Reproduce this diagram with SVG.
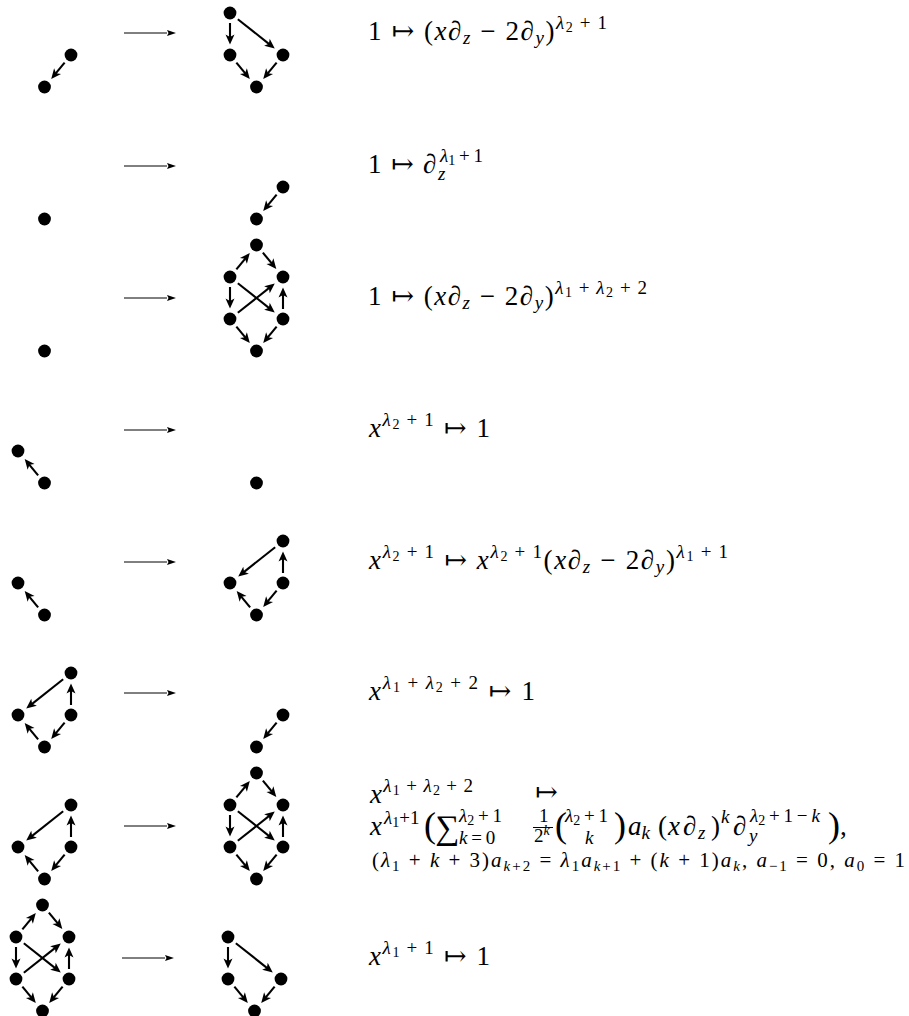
<svg xmlns="http://www.w3.org/2000/svg" width="909" height="1016" viewBox="0 0 909 1016">
<style>
.n{fill:#000}
.e{stroke:#000;stroke-width:2.1;fill:none;marker-end:url(#ah)}
.h{stroke:#000;stroke-width:1;fill:none;marker-end:url(#hh)}
.t{font-size:27px;fill:#000}
.i{font-style:italic}
.s{font-size:19px}
.ss{font-size:14px}
.big{font-size:36px}
.sum{font-size:34px}
.t3{font-size:21px;fill:#000}
.s3{font-size:15px}
</style>
<defs>
<marker id="ah" markerUnits="userSpaceOnUse" markerWidth="14" markerHeight="14" viewBox="-6 -7 14 14" refX="0" refY="0" orient="auto"><path d="M5.5,0 L-4.5,-4.5 L-2,0 L-4.5,4.5 Z" fill="#000"/></marker>
<marker id="hh" markerUnits="userSpaceOnUse" markerWidth="12" markerHeight="8" viewBox="-2 -4 12 8" refX="0" refY="0" orient="auto"><path d="M9,0 L0,-3 L1.5,0 L0,3 Z" fill="#000"/></marker>
</defs>

<g id="connectors">
<line class="h" x1="124" y1="33" x2="167" y2="33"/>
<line class="h" x1="124" y1="166" x2="167" y2="166"/>
<line class="h" x1="124" y1="298" x2="167" y2="298"/>
<line class="h" x1="124" y1="430" x2="167" y2="430"/>
<line class="h" x1="124" y1="562" x2="167" y2="562"/>
<line class="h" x1="124" y1="693" x2="167" y2="693"/>
<line class="h" x1="124" y1="826" x2="167" y2="826"/>
<line class="h" x1="122" y1="958" x2="165" y2="958"/>
<g transform="translate(44.5,55)"><line class="e" x1="20.12" y1="7.70" x2="10.21" y2="19.68"/></g>
<g transform="translate(230,13)">
<line class="e" x1="0" y1="10" x2="0" y2="26"/>
<line class="e" x1="7.84" y1="6.21" x2="40.46" y2="32.06"/>
<line class="e" x1="6.38" y1="49.70" x2="16.29" y2="61.68"/>
<line class="e" x1="46.62" y1="49.70" x2="36.71" y2="61.68"/>
</g>
<g transform="translate(256.5,187)"><line class="e" x1="20.12" y1="7.70" x2="10.21" y2="19.68"/></g>
<g transform="translate(230,277)">
<line class="e" x1="6.38" y1="-7.70" x2="16.29" y2="-19.68"/>
<line class="e" x1="32.88" y1="-24.30" x2="42.79" y2="-12.32"/>
<line class="e" x1="0" y1="10" x2="0" y2="26"/>
<line class="e" x1="53" y1="32" x2="53" y2="16"/>
<line class="e" x1="7.84" y1="6.21" x2="40.46" y2="32.06"/>
<line class="e" x1="7.84" y1="35.79" x2="40.46" y2="9.94"/>
<line class="e" x1="6.38" y1="49.70" x2="16.29" y2="61.68"/>
<line class="e" x1="46.62" y1="49.70" x2="36.71" y2="61.68"/>
</g>
<g transform="translate(18,451)"><line class="e" x1="20.12" y1="24.30" x2="10.21" y2="12.32"/></g>
<g transform="translate(18,583)"><line class="e" x1="20.12" y1="24.30" x2="10.21" y2="12.32"/></g>
<g transform="translate(230,541)">
<line class="e" x1="45.16" y1="6.21" x2="12.54" y2="32.06"/>
<line class="e" x1="53" y1="32" x2="53" y2="16"/>
<line class="e" x1="46.62" y1="49.70" x2="36.71" y2="61.68"/>
<line class="e" x1="20.12" y1="66.30" x2="10.21" y2="54.32"/>
</g>
<g transform="translate(18,673)">
<line class="e" x1="45.16" y1="6.21" x2="12.54" y2="32.06"/>
<line class="e" x1="53" y1="32" x2="53" y2="16"/>
<line class="e" x1="46.62" y1="49.70" x2="36.71" y2="61.68"/>
<line class="e" x1="20.12" y1="66.30" x2="10.21" y2="54.32"/>
</g>
<g transform="translate(256.5,715)"><line class="e" x1="20.12" y1="7.70" x2="10.21" y2="19.68"/></g>
<g transform="translate(18,805)">
<line class="e" x1="45.16" y1="6.21" x2="12.54" y2="32.06"/>
<line class="e" x1="53" y1="32" x2="53" y2="16"/>
<line class="e" x1="46.62" y1="49.70" x2="36.71" y2="61.68"/>
<line class="e" x1="20.12" y1="66.30" x2="10.21" y2="54.32"/>
</g>
<g transform="translate(230,805)">
<line class="e" x1="6.38" y1="-7.70" x2="16.29" y2="-19.68"/>
<line class="e" x1="32.88" y1="-24.30" x2="42.79" y2="-12.32"/>
<line class="e" x1="0" y1="10" x2="0" y2="26"/>
<line class="e" x1="53" y1="32" x2="53" y2="16"/>
<line class="e" x1="7.84" y1="6.21" x2="40.46" y2="32.06"/>
<line class="e" x1="7.84" y1="35.79" x2="40.46" y2="9.94"/>
<line class="e" x1="6.38" y1="49.70" x2="16.29" y2="61.68"/>
<line class="e" x1="46.62" y1="49.70" x2="36.71" y2="61.68"/>
</g>
<g transform="translate(16,937)">
<line class="e" x1="6.38" y1="-7.70" x2="16.29" y2="-19.68"/>
<line class="e" x1="32.88" y1="-24.30" x2="42.79" y2="-12.32"/>
<line class="e" x1="0" y1="10" x2="0" y2="26"/>
<line class="e" x1="53" y1="32" x2="53" y2="16"/>
<line class="e" x1="7.84" y1="6.21" x2="40.46" y2="32.06"/>
<line class="e" x1="7.84" y1="35.79" x2="40.46" y2="9.94"/>
<line class="e" x1="6.38" y1="49.70" x2="16.29" y2="61.68"/>
<line class="e" x1="46.62" y1="49.70" x2="36.71" y2="61.68"/>
</g>
<g transform="translate(228,937)">
<line class="e" x1="0" y1="10" x2="0" y2="26"/>
<line class="e" x1="7.84" y1="6.21" x2="40.46" y2="32.06"/>
<line class="e" x1="6.38" y1="49.70" x2="16.29" y2="61.68"/>
<line class="e" x1="46.62" y1="49.70" x2="36.71" y2="61.68"/>
</g>
</g>

<g id="r1L-a"><circle class="n" cx="71" cy="55" r="6.4"/></g>
<g id="r1L-b"><circle class="n" cx="44.5" cy="87" r="6.4"/></g>
<g id="r1R-a"><circle class="n" cx="230" cy="13" r="6.4"/></g>
<g id="r1R-b"><circle class="n" cx="230" cy="55" r="6.4"/></g>
<g id="r1R-c"><circle class="n" cx="283" cy="55" r="6.4"/></g>
<g id="r1R-d"><circle class="n" cx="256.5" cy="87" r="6.4"/></g>
<g id="r2L-a"><circle class="n" cx="44.5" cy="219" r="6.4"/></g>
<g id="r2R-a"><circle class="n" cx="283" cy="187" r="6.4"/></g>
<g id="r2R-b"><circle class="n" cx="256.5" cy="219" r="6.4"/></g>
<g id="r3L-a"><circle class="n" cx="44.5" cy="351" r="6.4"/></g>
<g id="r3R-t"><circle class="n" cx="256.5" cy="245" r="6.4"/></g>
<g id="r3R-ml"><circle class="n" cx="230" cy="277" r="6.4"/></g>
<g id="r3R-mr"><circle class="n" cx="283" cy="277" r="6.4"/></g>
<g id="r3R-bl"><circle class="n" cx="230" cy="319" r="6.4"/></g>
<g id="r3R-br"><circle class="n" cx="283" cy="319" r="6.4"/></g>
<g id="r3R-b"><circle class="n" cx="256.5" cy="351" r="6.4"/></g>
<g id="r4L-a"><circle class="n" cx="18" cy="451" r="6.4"/></g>
<g id="r4L-b"><circle class="n" cx="44.5" cy="483" r="6.4"/></g>
<g id="r4R-a"><circle class="n" cx="256.5" cy="483" r="6.4"/></g>
<g id="r5L-a"><circle class="n" cx="18" cy="583" r="6.4"/></g>
<g id="r5L-b"><circle class="n" cx="44.5" cy="615" r="6.4"/></g>
<g id="r5R-tr"><circle class="n" cx="283" cy="541" r="6.4"/></g>
<g id="r5R-ml"><circle class="n" cx="230" cy="583" r="6.4"/></g>
<g id="r5R-mr"><circle class="n" cx="283" cy="583" r="6.4"/></g>
<g id="r5R-b"><circle class="n" cx="256.5" cy="615" r="6.4"/></g>
<g id="r6L-tr"><circle class="n" cx="71" cy="673" r="6.4"/></g>
<g id="r6L-ml"><circle class="n" cx="18" cy="715" r="6.4"/></g>
<g id="r6L-mr"><circle class="n" cx="71" cy="715" r="6.4"/></g>
<g id="r6L-b"><circle class="n" cx="44.5" cy="747" r="6.4"/></g>
<g id="r6R-a"><circle class="n" cx="283" cy="715" r="6.4"/></g>
<g id="r6R-b"><circle class="n" cx="256.5" cy="747" r="6.4"/></g>
<g id="r7L-tr"><circle class="n" cx="71" cy="805" r="6.4"/></g>
<g id="r7L-ml"><circle class="n" cx="18" cy="847" r="6.4"/></g>
<g id="r7L-mr"><circle class="n" cx="71" cy="847" r="6.4"/></g>
<g id="r7L-b"><circle class="n" cx="44.5" cy="879" r="6.4"/></g>
<g id="r7R-t"><circle class="n" cx="256.5" cy="773" r="6.4"/></g>
<g id="r7R-ml"><circle class="n" cx="230" cy="805" r="6.4"/></g>
<g id="r7R-mr"><circle class="n" cx="283" cy="805" r="6.4"/></g>
<g id="r7R-bl"><circle class="n" cx="230" cy="847" r="6.4"/></g>
<g id="r7R-br"><circle class="n" cx="283" cy="847" r="6.4"/></g>
<g id="r7R-b"><circle class="n" cx="256.5" cy="879" r="6.4"/></g>
<g id="r8L-t"><circle class="n" cx="42.5" cy="905" r="6.4"/></g>
<g id="r8L-ml"><circle class="n" cx="16" cy="937" r="6.4"/></g>
<g id="r8L-mr"><circle class="n" cx="69" cy="937" r="6.4"/></g>
<g id="r8L-bl"><circle class="n" cx="16" cy="979" r="6.4"/></g>
<g id="r8L-br"><circle class="n" cx="69" cy="979" r="6.4"/></g>
<g id="r8L-b"><circle class="n" cx="42.5" cy="1011" r="6.4"/></g>
<g id="r8R-a"><circle class="n" cx="228" cy="937" r="6.4"/></g>
<g id="r8R-b"><circle class="n" cx="228" cy="979" r="6.4"/></g>
<g id="r8R-c"><circle class="n" cx="281" cy="979" r="6.4"/></g>
<g id="r8R-d"><circle class="n" cx="254.5" cy="1011" r="6.4"/></g>

<g id="f1"><text class="t" font-family="Liberation Serif, Times New Roman, DejaVu Serif, serif" y="40" textLength="239" lengthAdjust="spacing"><tspan x="368">1 ↦ (</tspan><tspan class="i">x∂</tspan><tspan class="s i" y="44">z</tspan><tspan y="40"> − 2</tspan><tspan class="i">∂</tspan><tspan class="s i" y="44">y</tspan><tspan y="40">)</tspan><tspan class="s i" y="29">λ</tspan><tspan class="ss" y="32">2</tspan><tspan class="s" y="29">&#8201;+&#8201;1</tspan></text></g>

<g id="f2"><text class="t" font-family="Liberation Serif, Times New Roman, DejaVu Serif, serif" y="173"><tspan x="368">1</tspan><tspan x="391">↦</tspan><tspan class="i" x="423">∂</tspan><tspan class="s i" x="438" y="180">z</tspan><tspan class="s i" x="440" y="162">λ</tspan><tspan class="ss" y="165">1</tspan><tspan class="s" y="162">&#8201;+&#8201;1</tspan></text></g>

<g id="f3"><text class="t" font-family="Liberation Serif, Times New Roman, DejaVu Serif, serif" y="305" textLength="279" lengthAdjust="spacing"><tspan x="368">1 ↦ (</tspan><tspan class="i">x∂</tspan><tspan class="s i" y="309">z</tspan><tspan y="305"> − 2</tspan><tspan class="i">∂</tspan><tspan class="s i" y="309">y</tspan><tspan y="305">)</tspan><tspan class="s i" y="294">λ</tspan><tspan class="ss" y="297">1</tspan><tspan class="s" y="294">&#8201;+&#8201;</tspan><tspan class="s i">λ</tspan><tspan class="ss" y="297">2</tspan><tspan class="s" y="294">&#8201;+&#8201;2</tspan></text></g>

<g id="f4"><text class="t" font-family="Liberation Serif, Times New Roman, DejaVu Serif, serif" y="437" textLength="121" lengthAdjust="spacing"><tspan class="i" x="369">x</tspan><tspan class="s i" y="426">λ</tspan><tspan class="ss" y="429">2</tspan><tspan class="s" y="426">&#8201;+&#8201;1</tspan><tspan y="437"> ↦ 1</tspan></text></g>

<g id="f5"><text class="t" font-family="Liberation Serif, Times New Roman, DejaVu Serif, serif" y="569" textLength="359" lengthAdjust="spacing"><tspan class="i" x="369">x</tspan><tspan class="s i" y="558">λ</tspan><tspan class="ss" y="561">2</tspan><tspan class="s" y="558">&#8201;+&#8201;1</tspan><tspan y="569"> ↦ </tspan><tspan class="i">x</tspan><tspan class="s i" y="558">λ</tspan><tspan class="ss" y="561">2</tspan><tspan class="s" y="558">&#8201;+&#8201;1</tspan><tspan y="569">(</tspan><tspan class="i">x∂</tspan><tspan class="s i" y="573">z</tspan><tspan y="569"> − 2</tspan><tspan class="i">∂</tspan><tspan class="s i" y="573">y</tspan><tspan y="569">)</tspan><tspan class="s i" y="558">λ</tspan><tspan class="ss" y="561">1</tspan><tspan class="s" y="558">&#8201;+&#8201;1</tspan></text></g>

<g id="f6"><text class="t" font-family="Liberation Serif, Times New Roman, DejaVu Serif, serif" y="700" textLength="166" lengthAdjust="spacing"><tspan class="i" x="369">x</tspan><tspan class="s i" y="689">λ</tspan><tspan class="ss" y="692">1</tspan><tspan class="s" y="689">&#8201;+&#8201;</tspan><tspan class="s i">λ</tspan><tspan class="ss" y="692">2</tspan><tspan class="s" y="689">&#8201;+&#8201;2</tspan><tspan y="700"> ↦ 1</tspan></text></g>

<g id="f7">
<text class="t" font-family="Liberation Serif, Times New Roman, DejaVu Serif, serif" y="803" textLength="103" lengthAdjust="spacing"><tspan class="i" x="370">x</tspan><tspan class="s i" y="792">λ</tspan><tspan class="ss" y="795">1</tspan><tspan class="s" y="792">&#8201;+&#8201;</tspan><tspan class="s i">λ</tspan><tspan class="ss" y="795">2</tspan><tspan class="s" y="792">&#8201;+&#8201;2</tspan></text>
<text class="t" font-family="Liberation Serif, Times New Roman, DejaVu Serif, serif" x="535" y="801">↦</text>
<text class="t" font-family="Liberation Serif, Times New Roman, DejaVu Serif, serif" y="835"><tspan class="i" x="370">x</tspan><tspan class="s i" x="384" y="824">λ</tspan><tspan class="ss" y="827">1</tspan><tspan class="s" y="824">+1</tspan><tspan class="big" x="424" y="837">(</tspan><tspan class="sum" x="435" y="839">∑</tspan><tspan class="s i" x="459" y="822">λ</tspan><tspan class="ss" y="825">2</tspan><tspan class="s" y="822">&#8201;+&#8201;1</tspan><tspan class="s i" x="459" y="844">k</tspan><tspan class="s" y="844">&#8201;=&#8201;0</tspan><tspan class="s" x="539" y="822">1</tspan><tspan class="s" x="534" y="842">2</tspan><tspan class="ss i" y="835">k</tspan><tspan class="big" x="555" y="837">(</tspan><tspan class="s i" x="565" y="822">λ</tspan><tspan class="ss" y="825">2</tspan><tspan class="s" y="822">&#8201;+&#8201;1</tspan><tspan class="s i" x="585" y="844">k</tspan><tspan class="big" x="614" y="837">)</tspan><tspan class="i" x="628" y="835">a</tspan><tspan class="s i" y="839">k</tspan><tspan x="658" y="835">(</tspan><tspan class="i" x="668">x</tspan><tspan class="i" x="683">∂</tspan><tspan class="s i" x="698" y="839">z</tspan><tspan x="711" y="835">)</tspan><tspan class="s i" x="721" y="823">k</tspan><tspan class="i" x="733" y="835">∂</tspan><tspan class="s i" x="749" y="842">y</tspan><tspan class="s i" x="750" y="822">λ</tspan><tspan class="ss" y="825">2</tspan><tspan class="s" y="822">&#8201;+&#8201;1&#8201;−&#8201;</tspan><tspan class="s i">k</tspan><tspan class="big" x="828" y="837">)</tspan><tspan x="840" y="835">,</tspan></text>
<line x1="533" y1="827.5" x2="553" y2="827.5" stroke="#000" stroke-width="1"/>
<text class="t3" font-family="Liberation Serif, Times New Roman, DejaVu Serif, serif" y="867" textLength="533" lengthAdjust="spacing"><tspan x="372">(</tspan><tspan class="i">λ</tspan><tspan class="s3" y="871">1</tspan><tspan y="867"> + </tspan><tspan class="i">k</tspan><tspan> + 3)</tspan><tspan class="i">a</tspan><tspan class="s3 i" y="871">k</tspan><tspan class="s3" y="871">+2</tspan><tspan y="867"> = </tspan><tspan class="i">λ</tspan><tspan class="s3" y="871">1</tspan><tspan class="i" y="867">a</tspan><tspan class="s3 i" y="871">k</tspan><tspan class="s3" y="871">+1</tspan><tspan y="867"> + (</tspan><tspan class="i">k</tspan><tspan> + 1)</tspan><tspan class="i">a</tspan><tspan class="s3 i" y="871">k</tspan><tspan y="867">, </tspan><tspan class="i">a</tspan><tspan class="s3" y="871">−1</tspan><tspan y="867"> = 0, </tspan><tspan class="i">a</tspan><tspan class="s3" y="871">0</tspan><tspan y="867"> = 1</tspan></text>
</g>

<g id="f8"><text class="t" font-family="Liberation Serif, Times New Roman, DejaVu Serif, serif" y="965" textLength="121" lengthAdjust="spacing"><tspan class="i" x="369">x</tspan><tspan class="s i" y="954">λ</tspan><tspan class="ss" y="957">1</tspan><tspan class="s" y="954">&#8201;+&#8201;1</tspan><tspan y="965"> ↦ 1</tspan></text></g>
</svg>
